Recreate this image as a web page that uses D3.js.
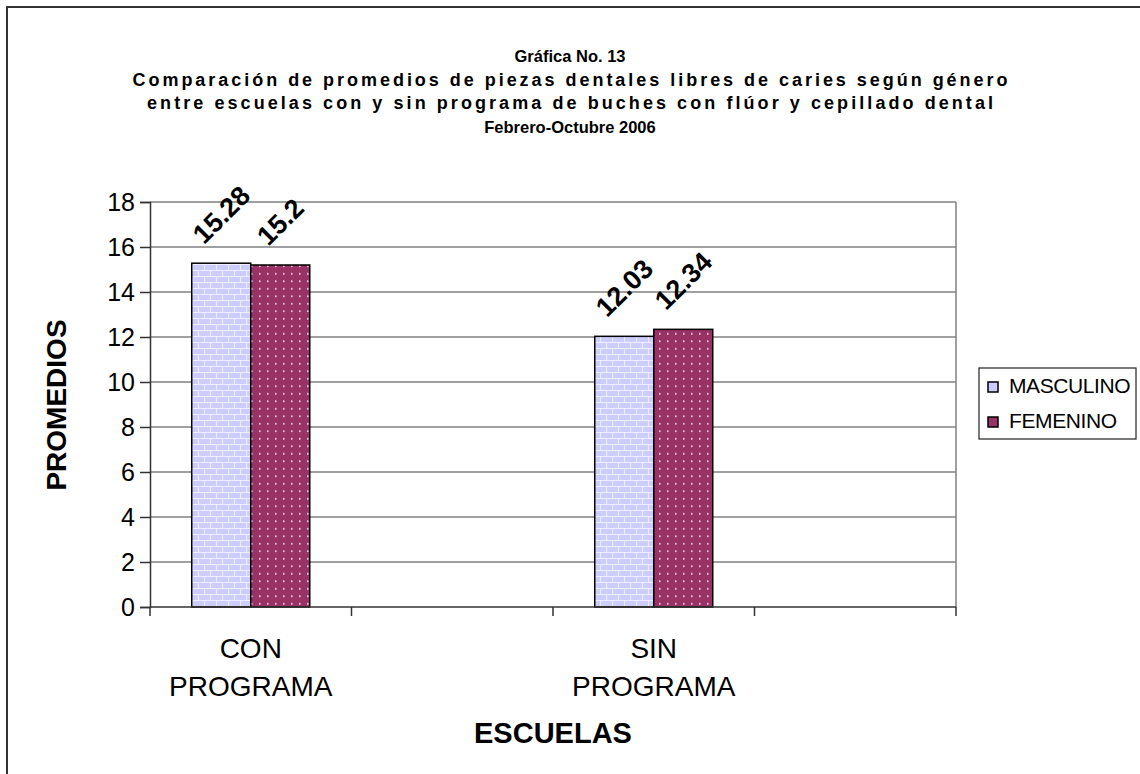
<!DOCTYPE html>
<html>
<head>
<meta charset="utf-8">
<script src="https://cdn.jsdelivr.net/npm/d3@7"></script>
<style>
  body { margin: 0; background: #fff; }
  svg text { font-family: "Liberation Sans", Arial, sans-serif; fill: #000; }
</style>
</head>
<body>
<div id="chart"></div>
<script>
//
// Gráfica No. 13 - promedios de piezas libres de caries por género
//

////////////////////////////////////////////////////////////////////////
// Data
let titleLines = [
  "Gráfica No. 13",
  "Comparación de promedios de piezas dentales libres de caries según género",
  "entre escuelas con y sin programa de buches con flúor y cepillado dental",
  "Febrero-Octubre 2006"
];

// the original sheet had two empty categories, which is why the ticks look odd
let categories = ["CON PROGRAMA", " ", "SIN PROGRAMA", "  "];
let series = ["MASCULINO", "FEMENINO"];
let masculino = [15.28, null, 12.03, null];
let femenino = [15.2, null, 12.34, null];
let yTicks = [0, 2, 4, 6, 8, 10, 12, 14, 16, 18];

let valueLabels = {
  "MASCULINO": ["15.28", null, "12.03", null],
  "FEMENINO": ["15.2", null, "12.34", null]
};

////////////////////////////////////////////////////////////////////////
// Canvas
let width = 1140;
let height = 774;
let plot = { left: 150, right: 956, top: 202, bottom: 607 };

// the excel title stretched the two long lines, keep that look
let titleWidths = [null, 875, 846, null];
let titleSizes = [16.5, 18, 18, 16.5];

let svg = d3.select("#chart")
  .append("svg")
  .attr("width", width).attr("height", height);

// patterns for the two series
let defs = svg.append("defs");

let brick = defs.append("pattern")
  .attr("id", "brick")
  .attr("patternUnits", "userSpaceOnUse")
  .attr("width", 12).attr("height", 12);
brick.append("rect").attr("width", 12).attr("height", 12).attr("fill", "#ccccff");
brick.append("path")
  .attr("d", "M0,0.5H12 M0,6.5H12 M0.5,0V6 M6.5,6V12")
  .attr("stroke", "#eeeeff").attr("stroke-width", 1.2).attr("fill", "none");

let dots = defs.append("pattern")
  .attr("id", "dots")
  .attr("patternUnits", "userSpaceOnUse")
  .attr("width", 8).attr("height", 7.5);
dots.append("rect").attr("width", 8).attr("height", 7.5).attr("fill", "#993366");
dots.append("rect").attr("x", 3).attr("y", 3).attr("width", 1.6).attr("height", 1.6).attr("fill", "#f4dce8");

let fills = { "MASCULINO": "url(#brick)", "FEMENINO": "url(#dots)" };
let legendFills = { "MASCULINO": "#ccccff", "FEMENINO": "#993366" };
let values = { "MASCULINO": masculino, "FEMENINO": femenino };

// outer border of the chart object
svg.append("rect")
  .attr("x", 7).attr("y", 7)
  .attr("width", width + 20).attr("height", height + 20)
  .attr("fill", "none").attr("stroke", "#333").attr("stroke-width", 2);

////////////////////////////////////////////////////////////////////////
// Scales
let xScale = d3.scaleBand()
  .domain(categories)
  .range([plot.left, plot.right]);

let groupWidth = 118;
let xInner = d3.scaleBand()
  .domain(series)
  .range([0, groupWidth]);

let yScale = d3.scaleLinear()
  .domain([0, 18])
  .range([plot.bottom, plot.top]);

////////////////////////////////////////////////////////////////////////
// Title
svg.append("g")
  .selectAll("text")
  .data(titleLines)
  .enter()
  .append("text")
  .attr("x", 570)
  .attr("y", (d, i) => 62 + i * 23.6)
  .attr("text-anchor", "middle")
  .attr("font-size", (d, i) => titleSizes[i])
  .attr("font-weight", "bold")
  .each(function (d, i) {
    if (titleWidths[i]) {
      d3.select(this)
        .attr("textLength", titleWidths[i])
        .attr("lengthAdjust", "spacing");
    }
  })
  .text(d => d);

////////////////////////////////////////////////////////////////////////
// Gridlines and plot frame
svg.append("g")
  .selectAll("line")
  .data(yTicks.filter(t => t > 0))
  .enter()
  .append("line")
  .attr("x1", plot.left).attr("x2", plot.right)
  .attr("y1", d => yScale(d)).attr("y2", d => yScale(d))
  .attr("stroke", "#808080").attr("stroke-width", 1.5);

svg.append("line")
  .attr("x1", plot.right).attr("x2", plot.right)
  .attr("y1", plot.top).attr("y2", plot.bottom)
  .attr("stroke", "#808080").attr("stroke-width", 1.5);

////////////////////////////////////////////////////////////////////////
// Bars
series.forEach(function (s) {
  svg.append("g")
    .selectAll("rect")
    .data(categories.map((c, i) => ({ cat: c, v: values[s][i] })).filter(d => d.v != null))
    .enter()
    .append("rect")
    .attr("x", d => xScale(d.cat) + (xScale.bandwidth() - groupWidth) / 2 + xInner(s))
    .attr("y", d => yScale(d.v))
    .attr("width", xInner.bandwidth())
    .attr("height", d => yScale(0) - yScale(d.v))
    .attr("fill", fills[s])
    .attr("stroke", "#000").attr("stroke-width", 1.5);
});

// rotated value labels above each bar
series.forEach(function (s) {
  categories.forEach(function (c, i) {
    if (values[s][i] == null) return;
    let cx = xScale(c) + (xScale.bandwidth() - groupWidth) / 2 + xInner(s) + xInner.bandwidth() / 2;
    let t = svg.append("text")
      .attr("font-size", 27)
      .attr("font-weight", "bold")
      .attr("text-anchor", "middle")
      .attr("dy", "0.35em")
      .text(valueLabels[s][i]);
    let len = t.node().getComputedTextLength();
    let d = 18 + (len * 0.707 + 19 * 0.707) / 2;
    let cy = yScale(values[s][i]) - d;
    t.attr("transform", "translate(" + cx + "," + cy + ") rotate(-45)");
  });
});

////////////////////////////////////////////////////////////////////////
// Axes
let yAxis = d3.axisLeft(yScale)
  .tickValues(yTicks)
  .tickSize(10)
  .tickPadding(5);

let gy = svg.append("g")
  .attr("transform", "translate(" + plot.left + ",0)")
  .call(yAxis);
gy.select(".domain").attr("stroke", "#333").attr("stroke-width", 1.5);
gy.selectAll(".tick line").attr("stroke", "#333").attr("stroke-width", 1.5);
gy.selectAll(".tick text")
  .attr("font-size", 25)
  .attr("font-family", "Liberation Sans, Arial, sans-serif")
  .attr("fill", "#000");

// x axis: ticks sit on the category boundaries
let xBounds = categories.map(c => xScale(c)).concat([plot.right]);
svg.append("line")
  .attr("x1", plot.left).attr("x2", plot.right)
  .attr("y1", plot.bottom).attr("y2", plot.bottom)
  .attr("stroke", "#333").attr("stroke-width", 1.5);
svg.append("g")
  .selectAll("line")
  .data(xBounds)
  .enter()
  .append("line")
  .attr("x1", d => d).attr("x2", d => d)
  .attr("y1", plot.bottom).attr("y2", plot.bottom + 9)
  .attr("stroke", "#333").attr("stroke-width", 1.5);

// category labels, split over two lines
let catLabels = svg.append("g")
  .selectAll("text")
  .data(categories.filter(c => c.trim() != ""))
  .enter()
  .append("text")
  .attr("text-anchor", "middle")
  .attr("font-size", 28);
catLabels.each(function (c) {
  let words = c.split(" ");
  let cx = xScale(c) + xScale.bandwidth() / 2;
  d3.select(this).selectAll("tspan")
    .data(words)
    .enter()
    .append("tspan")
    .attr("x", cx)
    .attr("y", (w, i) => 658 + i * 38)
    .text(w => w);
});

// axis titles
svg.append("text")
  .attr("x", 553).attr("y", 743)
  .attr("text-anchor", "middle")
  .attr("font-size", 29).attr("font-weight", "bold")
  .text("ESCUELAS");

svg.append("text")
  .attr("transform", "translate(66,405) rotate(-90)")
  .attr("text-anchor", "middle")
  .attr("font-size", 28).attr("font-weight", "bold")
  .text("PROMEDIOS");

////////////////////////////////////////////////////////////////////////
// Legend
let legend = svg.append("g");
legend.append("rect")
  .attr("x", 979).attr("y", 368)
  .attr("width", 157).attr("height", 71)
  .attr("fill", "#fff").attr("stroke", "#222").attr("stroke-width", 1.2);

let items = legend.selectAll(".item")
  .data(series)
  .enter()
  .append("g")
  .attr("class", "item")
  .attr("transform", (d, i) => "translate(988," + (382 + i * 35) + ")");
items.append("rect")
  .attr("width", 10).attr("height", 10)
  .attr("fill", d => legendFills[d])
  .attr("stroke", "#000").attr("stroke-width", 1.5);
items.append("text")
  .attr("x", 21).attr("y", 11)
  .attr("font-size", 21)
  .attr("letter-spacing", -0.4)
  .text(d => d);
</script>
</body>
</html>
